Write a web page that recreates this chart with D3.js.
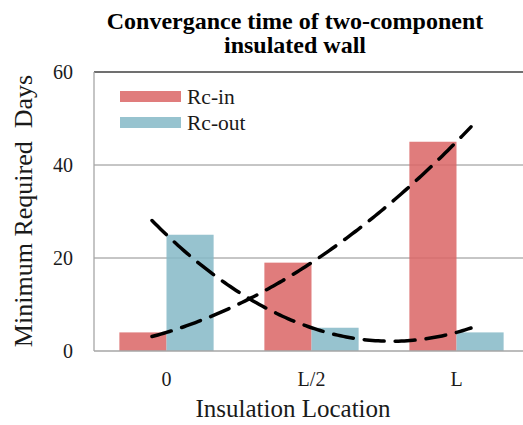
<!DOCTYPE html>
<html><head><meta charset="utf-8">
<script src="https://cdn.jsdelivr.net/npm/d3@7"></script>
<style>
html,body{margin:0;padding:0;background:#fff;}
svg{display:block;font-family:"Liberation Serif","Times New Roman",serif;}
</style></head>
<body><svg id="c" width="523" height="425"></svg>
<script>
const categories = ["0", "L/2", "L"];
const rcIn = [4, 19, 45];
const rcOut = [25, 5, 4];
const yTicks = [0, 20, 40, 60];
const seriesNames = ["Rc-in", "Rc-out"];
const titleLines = ["Convergance time of two-component", "insulated wall"];

const svg = d3.select("#c");
const L = 94, R = 529, T = 72, B = 351;

const y = d3.scaleLinear().domain([0, 60]).range([B, T]);
const xb = d3.scaleBand().domain(categories).range([L, R]).paddingInner(0.35).paddingOuter(0.175);
const xs = d3.scaleBand().domain(seriesNames).range([0, xb.bandwidth()]);
const xt = d3.scaleLinear().domain([1, 3]).range([xb("0") + xb.bandwidth()/2, xb("L") + xb.bandwidth()/2]);

// gridlines
svg.append("g").selectAll("line").data(yTicks.filter(d => d > 0 && d < 60)).join("line")
  .attr("x1", L).attr("x2", R).attr("y1", d => y(d)).attr("y2", d => y(d))
  .attr("stroke", "#8c8c8c").attr("stroke-width", 1);
svg.append("line").attr("x1", L).attr("x2", R).attr("y1", y(60)).attr("y2", y(60))
  .attr("stroke", "#404040").attr("stroke-width", 1.6);

// bars
const colors = {"Rc-in": "rgb(219,101,101)", "Rc-out": "rgb(133,184,199)"};
const seriesData = [{name: "Rc-in", values: rcIn}, {name: "Rc-out", values: rcOut}];
seriesData.forEach(s => {
  svg.append("g").selectAll("rect").data(s.values).join("rect")
    .attr("x", (d, i) => xb(categories[i]) + xs(s.name))
    .attr("width", xs.bandwidth())
    .attr("y", d => y(d))
    .attr("height", d => B - y(d))
    .attr("fill", colors[s.name]).attr("fill-opacity", 0.85);
});

// axes lines
svg.append("line").attr("x1", L).attr("x2", L).attr("y1", T).attr("y2", B).attr("stroke", "#a6a6a6").attr("stroke-width", 1.3);
svg.append("line").attr("x1", L).attr("x2", R).attr("y1", B).attr("y2", B).attr("stroke", "#a6a6a6").attr("stroke-width", 1.3);

// polynomial (order 2) trendlines from the bar values, forecast 0.1 each side
function quadFit(vals) {
  const xsv = vals.map((d, i) => i + 1);
  return t => vals.reduce((acc, v, i) => {
    let term = v;
    xsv.forEach((xj, j) => { if (j !== i) term *= (t - xj) / (xsv[i] - xj); });
    return acc + term;
  }, 0);
}
const tSamples = d3.range(0.9, 3.1001, 0.02);
const line = d3.line().x(d => xt(d[0])).y(d => y(d[1]));
[rcIn, rcOut].forEach(vals => {
  const f = quadFit(vals);
  svg.append("path").datum(tSamples.map(t => [t, f(t)]))
    .attr("d", line).attr("fill", "none").attr("stroke", "#000")
    .attr("stroke-width", 3.5).attr("stroke-dasharray", "20 11").attr("stroke-linecap", "round");
});

// y tick labels
svg.append("g").selectAll("text").data(yTicks).join("text")
  .attr("x", 73).attr("y", d => y(d) + 7).attr("text-anchor", "end")
  .attr("font-size", 20).attr("fill", "#1a1a1a").text(d => d);

// x tick labels
svg.append("g").selectAll("text").data(categories).join("text")
  .attr("x", d => xb(d) + xb.bandwidth()/2).attr("y", 386).attr("text-anchor", "middle")
  .attr("font-size", 20).attr("fill", "#1a1a1a").text(d => d);

// axis titles
svg.append("text").attr("x", 293).attr("y", 417).attr("text-anchor", "middle")
  .attr("font-size", 25).attr("fill", "#1a1a1a").text("Insulation Location");
svg.append("text").attr("transform", "translate(32,211) rotate(-90)").attr("text-anchor", "middle")
  .attr("font-size", 26).attr("fill", "#1a1a1a").attr("xml:space", "preserve").text("Minimum Required  Days");

// title
svg.append("g").selectAll("text").data(titleLines).join("text")
  .attr("x", 295).attr("y", (d, i) => 29 + i * 24).attr("text-anchor", "middle")
  .attr("font-size", 24).attr("font-weight", "bold").attr("fill", "#000").text(d => d);

// legend
const lg = svg.append("g");
seriesData.forEach((s, i) => {
  lg.append("rect").attr("x", 120).attr("y", 91 + i * 26).attr("width", 61).attr("height", 11)
    .attr("fill", colors[s.name]).attr("fill-opacity", 0.85);
  lg.append("text").attr("x", 187).attr("y", 104 + i * 26).attr("font-size", 21.5)
    .attr("fill", "#1a1a1a").text(s.name);
});
</script></body></html>
